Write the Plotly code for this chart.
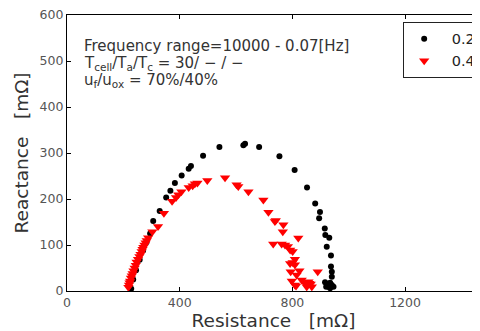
import plotly.graph_objects as go

# Series "0.2" (black dots): Resistance [mΩ], Reactance [mΩ]
black_R = [228, 235, 245, 258, 270, 282, 295, 306, 329, 352,
           367, 383, 407, 432, 440, 483, 541, 626, 632, 682,
           754, 808, 852, 881, 898, 895, 915, 917, 931, 922,
           937, 937, 940, 940, 916, 924, 934, 928, 920, 940,
           946, 934]
black_X = [5, 25, 45, 68, 88, 106, 125, 152, 174, 203,
           218, 235, 251, 266, 272, 294, 313, 317, 320, 313,
           293, 263, 225, 190, 172, 158, 136, 122, 116, 96,
           77, 53, 42, 31, 19, 15, 18, 9, 9, 13,
           9, 6]

# Series "0.4" (red down-triangles)
red_R = [218, 220, 222, 224, 227, 230, 233, 236, 240, 244,
         247, 252, 257, 261, 265, 268, 271, 275, 279, 283,
         288, 303, 323, 344, 373, 387, 395, 406, 432, 446,
         454, 463, 498, 561, 602, 608, 644, 697, 715, 738,
         741, 768, 766, 821, 732, 762, 774, 784, 792, 801,
         809, 801, 792, 809, 890, 794, 825, 815, 798, 809,
         833, 845, 857, 865, 851, 869, 813, 860]
red_X = [8, 13, 18, 22, 28, 33, 38, 44, 50, 56,
         63, 69, 75, 80, 86, 91, 95, 100, 105, 110,
         116, 129, 140, 169, 195, 203, 209, 216, 225, 229,
         233, 235, 240, 246, 231, 227, 216, 198, 171, 151,
         153, 144, 129, 115, 102, 102, 100, 97, 89, 86,
         69, 62, 60, 57, 42, 42, 44, 35, 22, 13,
         24, 17, 20, 15, 9, 9, 11, 17]

series_names = ["0.2", "0.4"]
x_ticks = [0, 400, 800, 1200]
y_ticks = [0, 100, 200, 300, 400, 500, 600]
info_lines = [
    "Frequency range=10000 - 0.07[Hz]",
    "T<sub>cell</sub>/T<sub>a</sub>/T<sub>c</sub> = 30/ − / −",
    "u<sub>f</sub>/u<sub>ox</sub> = 70%/40%",
]

FONT = "DejaVu Sans"

# page body has an 8px margin: figure is sized so it ends exactly at the window edge
OFF = 8
W, H = 480 - OFF, 331 - OFF
PLOT_L, PLOT_TOP, PLOT_BOT = 67 - OFF, 15 - OFF, 291 - OFF

fig = go.Figure()
fig.add_trace(go.Scatter(x=black_R, y=black_X, mode="markers", name="\u2009 " + series_names[0],
                         marker=dict(symbol="circle", size=6, color="black")))
fig.add_trace(go.Scatter(x=red_R, y=red_X, mode="markers", name="\u2009 " + series_names[1],
                         marker=dict(symbol="triangle-down", size=9, color="red")))

axis_common = dict(showgrid=False, zeroline=False, showline=True, linecolor="black",
                   linewidth=1.3, mirror="ticks", ticks="inside", ticklen=4,
                   tickcolor="black", automargin=False, ticklabeloverflow="allow",
                   tickfont=dict(family=FONT, size=12.5, color="#555"))

fig.update_xaxes(range=[0, 1466], tickvals=x_ticks, ticktext=[str(v) for v in x_ticks],
                 title=dict(text="Resistance   [mΩ]", font=dict(family=FONT, size=18.5, color="#333"),
                            standoff=2),
                 **axis_common)
fig.update_yaxes(range=[0, 600], tickvals=y_ticks, ticktext=[str(v) for v in y_ticks],
                 title=dict(text="Reactance   [mΩ]", font=dict(family=FONT, size=18.5, color="#333"),
                            standoff=6),
                 **axis_common)

for line, ypx in zip(info_lines, [46, 63, 80]):
    fig.add_annotation(xref="paper", yref="paper", x=0.037,
                       y=(PLOT_BOT - (ypx - OFF)) / (PLOT_BOT - PLOT_TOP),
                       xanchor="left", yanchor="middle", align="left", showarrow=False,
                       text=line, font=dict(family=FONT, size=15, color="#333"))

fig.update_layout(
    width=W, height=H,
    margin=dict(l=PLOT_L, r=0, t=PLOT_TOP, b=H - PLOT_BOT, autoexpand=False),
    plot_bgcolor="white", paper_bgcolor="white",
    showlegend=True,
    legend=dict(x=0.814, y=0.975, xanchor="left", yanchor="top",
                bordercolor="#222", borderwidth=1, bgcolor="white",
                font=dict(family=FONT, size=14.5, color="#222")),
)

fig.write_html("out.html")
